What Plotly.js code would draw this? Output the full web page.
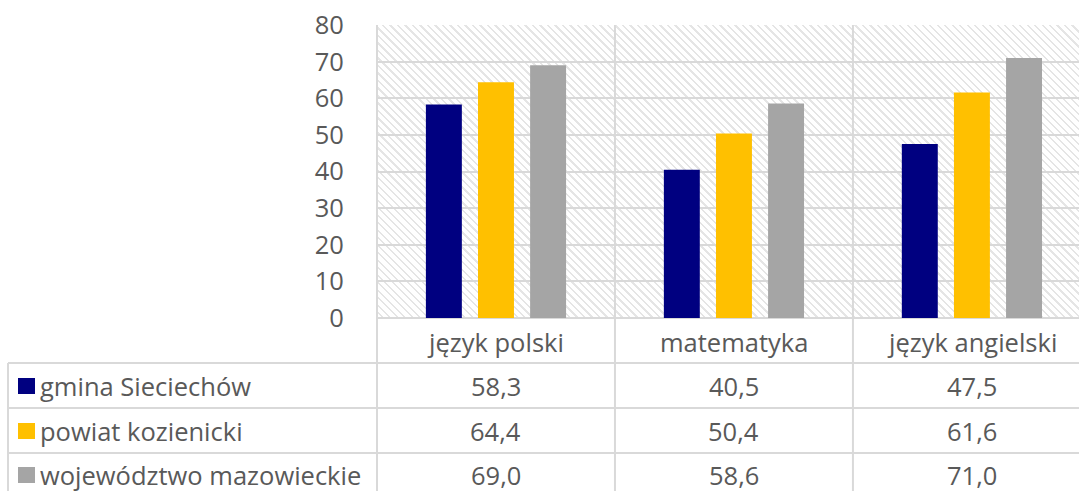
<!DOCTYPE html>
<html>
<head>
<meta charset="utf-8">
<script src="https://cdn.plot.ly/plotly-3.0.1.min.js"></script>
<style>
html,body{margin:0;padding:0;background:#fff;}
#wrap{position:relative;width:1079px;height:491px;overflow:hidden;}
#hatch{position:absolute;left:377px;top:25px;width:720px;height:293px;
background:repeating-linear-gradient(45deg,#ffffff 0px,#ffffff 3.6px,#e5e5e5 3.6px,#e5e5e5 5.3px);}
#chart{position:absolute;left:0;top:0;width:1079px;height:491px;}
</style>
</head>
<body>
<div id="wrap"><div id="hatch"></div><div id="chart"></div></div>
<script>
const categories = ["język polski", "matematyka", "język angielski"];
const seriesNames = ["gmina Sieciechów", "powiat kozienicki", "województwo mazowieckie"];
const gmina = [58.3, 40.5, 47.5];
const powiat = [64.4, 50.4, 61.6];
const wojewodztwo = [69.0, 58.6, 71.0];
const colors = ["#000080", "#FFC000", "#A5A5A5"];
const yTicks = [0, 10, 20, 30, 40, 50, 60, 70, 80];

const seriesValues = [gmina, powiat, wojewodztwo];
const FONT = "'Open Sans', 'Noto Sans', sans-serif";
const FS = 25.5;
const TXT = "#595959";
const GRID = "#d9d9d9";

const idx = categories.map((c, i) => i);
const traces = seriesValues.map((vals, s) => ({
  type: "bar", x: idx, y: vals, name: seriesNames[s],
  marker: {color: colors[s]}, hoverinfo: "skip"
}));

const H = 491, T = 25, B = 173;
const plotH = H - T - B;
function py(pxFromTop){ return (H - B - pxFromTop) / plotH; }
const PW = 702;
function px(pxFromLeft){ return (pxFromLeft - 377) / PW; }

const shapes = [];
const annotations = [];
const rowTops = [363, 408, 453];
const rowCenters = [386, 431, 475];
rowTops.forEach(y => shapes.push({type:"line", xref:"paper", yref:"paper",
  x0: px(8), x1: 1.05, y0: py(y), y1: py(y), line:{color:GRID, width:2}}));
shapes.push({type:"line", xref:"paper", yref:"paper", x0:px(8), x1:px(8),
  y0: py(363), y1: py(500), line:{color:GRID, width:2}});
shapes.push({type:"line", xref:"paper", yref:"paper", x0:0, x1:0,
  y0: py(25), y1: py(500), line:{color:GRID, width:2}});
for (let i = 0; i < categories.length - 1; i++) {
  shapes.push({type:"line", xref:"x", yref:"paper", x0:i+0.5, x1:i+0.5,
    y0: py(25), y1: py(500), line:{color:GRID, width:2}});
}
categories.forEach((c, i) => annotations.push({xref:"x", yref:"paper", x:i, y:py(342),
  text:c, showarrow:false, font:{family:FONT, size:FS, color:TXT}, xanchor:"center", yanchor:"middle"}));
seriesValues.forEach((vals, s) => {
  vals.forEach((v, i) => annotations.push({xref:"x", yref:"paper", x:i, y:py(rowCenters[s]),
    text: v.toFixed(1).replace(".", ","), showarrow:false,
    font:{family:FONT, size:FS, color:TXT}, xanchor:"center", yanchor:"middle"}));
  shapes.push({type:"rect", xref:"paper", yref:"paper",
    x0:px(18), x1:px(35), y0:py(rowCenters[s]+8), y1:py(rowCenters[s]-8),
    fillcolor:colors[s], line:{width:0}});
  annotations.push({xref:"paper", yref:"paper", x:px(38), y:py(rowCenters[s]),
    text: seriesNames[s], showarrow:false, font:{family:FONT, size:FS, color:TXT},
    xanchor:"left", yanchor:"middle"});
});

const layout = {
  width: 1079, height: 491,
  margin: {l: 377, r: 0, t: T, b: B, pad: 0},
  paper_bgcolor: "rgba(0,0,0,0)", plot_bgcolor: "rgba(0,0,0,0)",
  barmode: "group", bargap: 0.343, bargroupgap: 0.31,
  showlegend: false,
  font: {family: FONT, color: TXT},
  xaxis: {range: [-0.5, 2.45], showticklabels: false, showgrid: false, zeroline: false,
    showline: false, ticks: "", fixedrange: true},
  yaxis: {range: [0, 80], tickvals: yTicks, ticktext: yTicks.map(String),
    showgrid: true, gridcolor: GRID, gridwidth: 2, zeroline: true, zerolinecolor: GRID, zerolinewidth: 2,
    showline: false, ticks: "outside", ticklen: 27, tickcolor: "rgba(0,0,0,0)",
    tickfont: {family: FONT, size: FS, color: TXT}, fixedrange: true},
  shapes: shapes, annotations: annotations
};
Plotly.newPlot("chart", traces, layout, {displayModeBar: false, staticPlot: true});
</script>
</body>
</html>
